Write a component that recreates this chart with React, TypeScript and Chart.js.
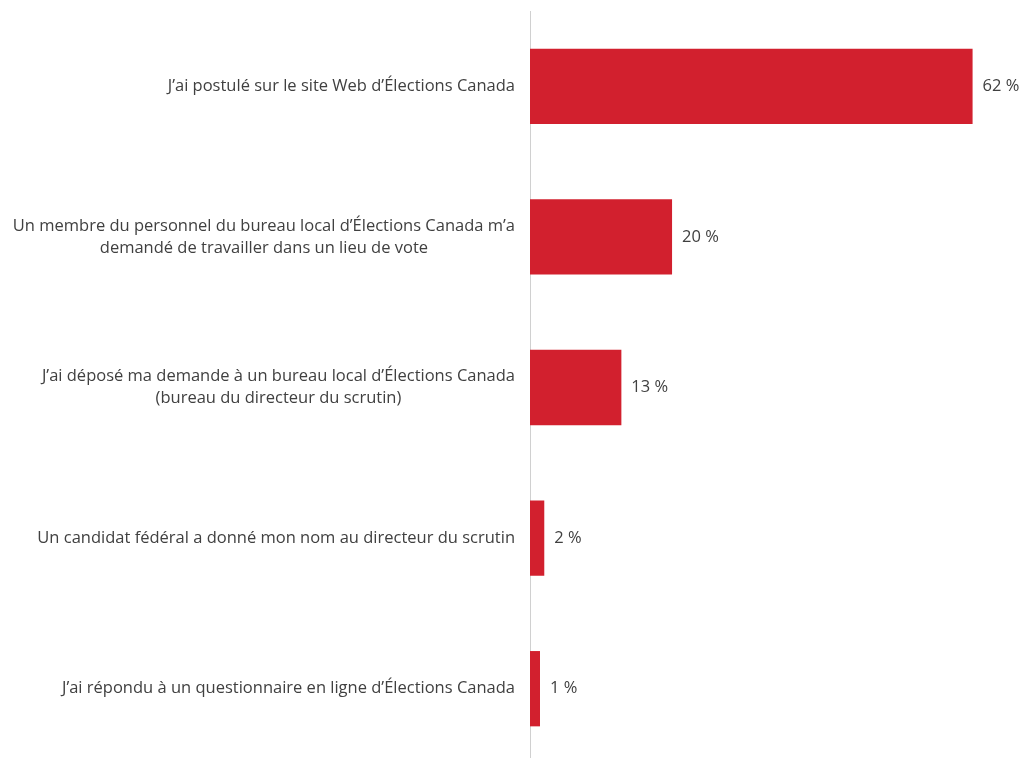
import React, { useEffect, useRef } from "react";
import { Chart, registerables } from "chart.js";

Chart.register(...registerables);

const categories: string[][] = [
  ["J’ai postulé sur le site Web d’Élections Canada"],
  ["Un membre du personnel du bureau local d’Élections Canada m’a", "demandé de travailler dans un lieu de vote"],
  ["J’ai déposé ma demande à un bureau local d’Élections Canada", "(bureau du directeur du scrutin)"],
  ["Un candidat fédéral a donné mon nom au directeur du scrutin"],
  ["J’ai répondu à un questionnaire en ligne d’Élections Canada"],
];
const values: number[] = [62, 19.9, 12.8, 2, 1.4];
const valueLabels: string[] = ["62 %", "20 %", "13 %", "2 %", "1 %"];

const FONT = "'Open Sans', sans-serif";
const TEXT = "#404040";
const BAR = "#D2202E";

const labelsPlugin = {
  id: "customLabels",
  afterDraw(chart: any) {
    const ctx = chart.ctx;
    const y = chart.scales.y;
    const meta = chart.getDatasetMeta(0);
    ctx.save();
    ctx.font = `16.5px ${FONT}`;
    ctx.fillStyle = TEXT;
    ctx.textBaseline = "middle";
    const lh = 22;
    categories.forEach((lines, i) => {
      const cy = y.getPixelForValue(i);
      const maxW = Math.max(...lines.map((l) => ctx.measureText(l).width));
      const cx = chart.chartArea.left - 15 - maxW / 2;
      ctx.textAlign = "center";
      lines.forEach((l, j) => {
        const ly = cy + (j - (lines.length - 1) / 2) * lh;
        ctx.fillText(l, cx, ly);
      });
      const bar = meta.data[i];
      ctx.textAlign = "left";
      ctx.fillText(valueLabels[i], bar.x + 10, cy);
    });
    ctx.restore();
  },
};

export default function App() {
  const ref = useRef<HTMLCanvasElement>(null);
  useEffect(() => {
    if (!ref.current) return;
    const chart = new Chart(ref.current, {
      type: "bar",
      data: {
        labels: categories.map((c) => c.join(" ")),
        datasets: [
          {
            data: values,
            backgroundColor: BAR,
            borderWidth: 0,
            barPercentage: 0.5,
            categoryPercentage: 1,
          },
        ],
      },
      options: {
        indexAxis: "y",
        responsive: false,
        animation: false,
        layout: { padding: { left: 0, right: 30, top: 11, bottom: 2 } },
        plugins: { legend: { display: false }, tooltip: { enabled: false } },
        scales: {
          x: { display: false, min: 0, max: 65 },
          y: {
            ticks: { display: false },
            grid: { display: false },
            border: { display: true, dash: [3, 3], color: "#d0d0d0", width: 1 },
            afterFit: (s: any) => {
              s.width = 530;
            },
          },
        },
      },
      plugins: [labelsPlugin],
    });
    return () => chart.destroy();
  }, []);
  return (
    <div style={{ position: "absolute", left: 0, top: 0, width: 1024, height: 766, background: "#fff" }}>
      <canvas ref={ref} width={1024} height={766} />
    </div>
  );
}
